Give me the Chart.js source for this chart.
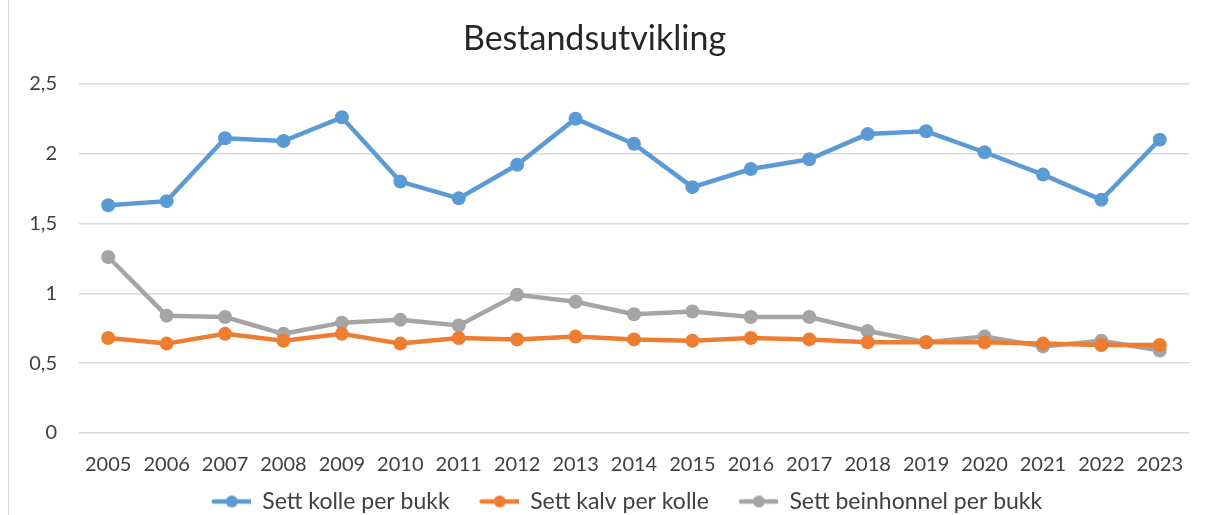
<!DOCTYPE html>
<html><head><meta charset="utf-8">
<script src="https://cdn.jsdelivr.net/npm/chart.js@4"></script>
<style>
html,body{margin:0;padding:0;background:#fff;}
#wrap{position:relative;width:1214px;height:515px;}
#border{position:absolute;left:8px;top:0;width:1px;height:515px;background:#d9d9d9;}
canvas{position:absolute;left:0;top:0;}
</style></head>
<body>
<div id="wrap"><canvas id="c" width="1214" height="515"></canvas><div id="border"></div></div>
<script>
const years = ['2005','2006','2007','2008','2009','2010','2011','2012','2013','2014','2015','2016','2017','2018','2019','2020','2021','2022','2023'];
const settKolle = [1.63,1.66,2.11,2.09,2.26,1.80,1.68,1.92,2.25,2.07,1.76,1.89,1.96,2.14,2.16,2.01,1.85,1.67,2.10];
const settKalv = [0.68,0.64,0.71,0.66,0.71,0.64,0.68,0.67,0.69,0.67,0.66,0.68,0.67,0.65,0.65,0.65,0.64,0.63,0.63];
const settBeinhonnel = [1.26,0.84,0.83,0.71,0.79,0.81,0.77,0.99,0.94,0.85,0.87,0.83,0.83,0.73,0.65,0.69,0.62,0.66,0.59];
const seriesNames = ['Sett kolle per bukk','Sett kalv per kolle','Sett beinhonnel per bukk'];
const colors = ['#5b9bd5','#ed7d31','#a5a5a5'];

function legendIcon(color, lead){
  const c=document.createElement('canvas'); c.width=lead+40; c.height=14;
  const x=c.getContext('2d');
  x.strokeStyle=color; x.lineWidth=4.5; x.lineCap='round';
  x.beginPath(); x.moveTo(lead+3,7); x.lineTo(lead+40,7); x.stroke();
  x.fillStyle=color; x.beginPath(); x.arc(lead+21,7,6,0,Math.PI*2); x.fill();
  return c;
}
const icons = colors.map((c,i)=>legendIcon(c, 28));
const F = 'Lato, "Open Sans", sans-serif';
const data=[settKolle,settKalv,settBeinhonnel];
new Chart(document.getElementById('c'),{
  type:'line',
  data:{labels:years,datasets:data.map((d,i)=>({
    label:seriesNames[i],data:d,borderColor:colors[i],backgroundColor:colors[i],
    borderWidth:4.5,pointRadius:7,pointHoverRadius:7,pointBackgroundColor:colors[i],pointBorderWidth:0,
    pointStyle:'circle',tension:0,fill:false
  }))},
  options:{
    responsive:false,animation:false,
    layout:{padding:{left:0,right:25,top:19,bottom:-8}},
    plugins:{
      title:{display:true,text:'Bestandsutvikling',color:'#262626',font:{family:F,size:34,weight:'normal'},padding:{top:0,bottom:24}},
      legend:{position:'bottom',labels:{usePointStyle:true,pointStyleWidth:68,color:'#404040',font:{family:F,size:23},padding:1,boxHeight:14,
        generateLabels:(ch)=>ch.data.datasets.map((ds,i)=>({text:ds.label,pointStyle:icons[i],fillStyle:colors[i],strokeStyle:colors[i],lineWidth:0,datasetIndex:i,hidden:false,fontColor:'#404040'}))}},
      tooltip:{enabled:false}
    },
    scales:{
      x:{offset:true,grid:{display:false},border:{display:false},ticks:{color:'#404040',font:{family:F,size:20},padding:12,maxRotation:0,autoSkip:false}},
      y:{min:0,max:2.5,afterFit:(s)=>{s.width=79;},grid:{color:'#d9d9d9',lineWidth:1.5,drawTicks:false},border:{display:false},
        ticks:{stepSize:0.5,color:'#404040',font:{family:F,size:20},padding:22,callback:(v)=>String(v).replace('.',',')}}
    }
  },
  plugins:[{id:'legendShift',afterLayout(ch){ if(ch.legend){ ch.legend.left+=18; ch.legend.right+=18; } }}]
});
</script>
</body></html>
